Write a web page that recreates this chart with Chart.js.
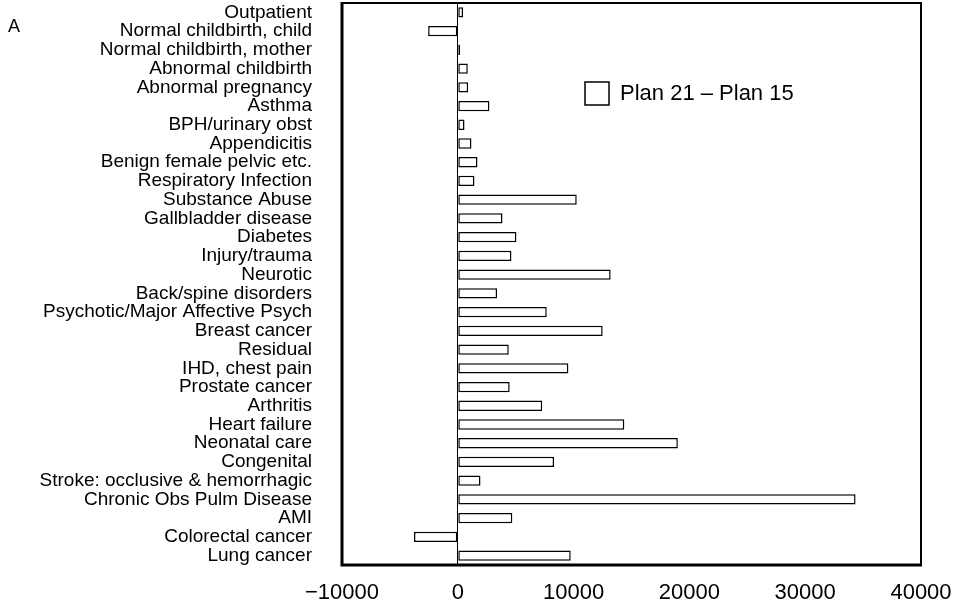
<!DOCTYPE html>
<html>
<head>
<meta charset="utf-8">
<style>
  html, body { margin: 0; padding: 0; background: #fff; }
  #wrap { width: 968px; height: 611px; }
</style>
<script src="https://cdn.jsdelivr.net/npm/chart.js@4/dist/chart.umd.min.js"></script>
</head>
<body>
<div id="wrap"><canvas id="chart" width="968" height="611"></canvas></div>
<script>
// categories, top to bottom
const categories = [
    'Outpatient', 'Normal childbirth, child', 'Normal childbirth, mother',
    'Abnormal childbirth', 'Abnormal pregnancy', 'Asthma', 'BPH/urinary obst',
    'Appendicitis', 'Benign female pelvic etc.', 'Respiratory Infection',
    'Substance Abuse', 'Gallbladder disease', 'Diabetes', 'Injury/trauma',
    'Neurotic', 'Back/spine disorders', 'Psychotic/Major Affective Psych',
    'Breast cancer', 'Residual', 'IHD, chest pain', 'Prostate cancer',
    'Arthritis', 'Heart failure', 'Neonatal care', 'Congenital',
    'Stroke: occlusive & hemorrhagic', 'Chronic Obs Pulm Disease', 'AMI',
    'Colorectal cancer', 'Lung cancer'
];

// Plan 21 - Plan 15 difference
const planDiff = [
    450, -2560, 200, 860, 890, 2730, 580, 1180, 1700, 1440,
    10270, 3860, 5060, 4630, 13200, 3390, 7680, 12510, 4400, 9550,
    4480, 7290, 14380, 19000, 8310, 1960, 34350, 4710, -3780, 9750
];

const xTicks = [-10000, 0, 10000, 20000, 30000, 40000];
const seriesLabel = 'Plan 21 \u2013 Plan 15';

const FONT = '"Liberation Sans", Arial, Helvetica, sans-serif';

// frame, panel letter and legend box
const extras = {
    id: 'extras',
    afterDraw(chart) {
        const ctx = chart.ctx;
        const a = chart.chartArea;
        ctx.save();
        ctx.strokeStyle = '#000';
        ctx.lineWidth = 2;
        ctx.beginPath();
        ctx.moveTo(a.left, a.top);
        ctx.lineTo(a.right, a.top);
        ctx.lineTo(a.right, a.bottom);
        ctx.stroke();
        ctx.lineWidth = 3;
        ctx.beginPath();
        ctx.moveTo(a.left, a.top - 1);
        ctx.lineTo(a.left, a.bottom);
        ctx.lineTo(a.right + 1, a.bottom);
        ctx.stroke();

        ctx.fillStyle = '#000';
        ctx.font = '18px ' + FONT;
        ctx.textBaseline = 'alphabetic';
        ctx.textAlign = 'left';
        ctx.fillText('A', 8, 32);

        // legend
        const bx = a.left + 243, by = 82;
        ctx.lineWidth = 1.5;
        ctx.strokeRect(bx, by, 24, 23);
        ctx.font = '22px ' + FONT;
        ctx.textBaseline = 'middle';
        ctx.fillText(chart.data.datasets[0].label, bx + 35, by + 12);
        ctx.restore();
    }
};

new Chart(document.getElementById('chart'), {
    type: 'bar',
    data: {
        labels: categories,
        datasets: [{
            label: seriesLabel,
            data: planDiff,
            backgroundColor: '#fff',
            borderColor: '#000',
            borderWidth: 1.5,
            borderSkipped: false,
            barPercentage: 0.55,
            categoryPercentage: 1
        }]
    },
    options: {
        indexAxis: 'y',
        responsive: false,
        animation: false,
        layout: {
            padding: { left: 0, top: 3, right: 47, bottom: 0 }
        },
        plugins: {
            legend: { display: false },
            tooltip: { enabled: false }
        },
        scales: {
            x: {
                min: -10000,
                max: 40000,
                afterBuildTicks(scale) {
                    scale.ticks = xTicks.map(v => ({ value: v }));
                },
                afterFit(scale) {
                    scale.height = 46;
                },
                grid: {
                    drawTicks: false,
                    lineWidth: 1,
                    color: (c) => (c.tick && c.tick.value === 0) ? '#000' : 'rgba(0,0,0,0)'
                },
                border: { display: false },
                ticks: {
                    padding: 15,
                    color: '#000',
                    maxRotation: 0,
                    font: { family: FONT, size: 22 },
                    callback: (v) => v < 0 ? '\u2212' + Math.abs(v) : String(v)
                }
            },
            y: {
                afterFit(scale) {
                    scale.width = 342;
                    // tick padding is only wanted horizontally
                    scale.paddingTop = 0;
                    scale.paddingBottom = 0;
                },
                grid: { display: false, drawTicks: false },
                border: { display: false },
                ticks: {
                    padding: 30,
                    color: '#000',
                    autoSkip: false,
                    font: { family: FONT, size: 19, lineHeight: 1 }
                }
            }
        }
    },
    plugins: [extras]
});
</script>
</body>
</html>
